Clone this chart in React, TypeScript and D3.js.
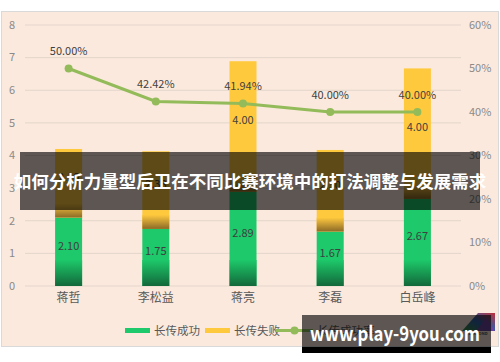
import * as d3 from 'd3';

// chart data
const categories = ['蒋哲', '李松益', '蒋亮', '李磊', '白岳峰'];
const success = [2.1, 1.75, 2.89, 1.67, 2.67];
const fail = [2.1, 2.38, 4.0, 2.5, 4.0];
const rate = [0.5, 0.4242, 0.4194, 0.4, 0.4];
const leftTicks = [0, 1, 2, 3, 4, 5, 6, 7, 8];
const rightTicks = [0, 0.1, 0.2, 0.3, 0.4, 0.5, 0.6];
const legendItems = ['长传成功', '长传失败', '长传成功率'];
const title = '如何分析力量型后卫在不同比赛环境中的打法调整与发展需求';
const watermark = 'www.play-9you.com';

const W = 500;
const H = 362;
const FONT = '"Noto Sans CJK SC", "Noto Sans", sans-serif';
const GREEN = '#1DC96A';
const GREEN_DARK = '#13683A';
const YELLOW = '#FFC93E';
const YELLOW_DARK = '#8C6A28';
const LINE = '#93BB5A';

function App() {
  const x = d3.scaleBand().domain(categories).range([25, 461]).padding(0);
  const y = d3.scaleLinear().domain([0, 8]).range([286, 25]);
  const y2 = d3.scaleLinear().domain([0, 0.6]).range([286, 25]);
  const barW = 27;
  const cx = (c: string) => (x(c) as number) + x.bandwidth() / 2;

  const line = d3
    .line<number>()
    .x((_, i) => cx(categories[i]))
    .y((d) => y2(d));

  const pct = d3.format('.2f');

  return (
    <div style={{ position: 'absolute', left: 0, top: 0 }}>
      <svg width={W} height={H} style={{ display: 'block', fontFamily: FONT }}>
        <defs>
          <linearGradient id="gShade" x1="0" y1="0" x2="0" y2="1">
            <stop offset="0" stopColor={GREEN} />
            <stop offset="1" stopColor={GREEN_DARK} />
          </linearGradient>
          <linearGradient id="yShade" x1="0" y1="0" x2="0" y2="1">
            <stop offset="0" stopColor={YELLOW} />
            <stop offset="1" stopColor={YELLOW_DARK} />
          </linearGradient>
          <linearGradient id="logo1" x1="0" y1="1" x2="1" y2="0">
            <stop offset="0" stopColor="#3A8F3A" />
            <stop offset="0.5" stopColor="#2E5FA8" />
            <stop offset="1" stopColor="#C0303A" />
          </linearGradient>
        </defs>
        <rect x={0} y={0} width={W} height={H} fill="#fff" />
        {/* chart area */}
        <rect x={1.5} y={11.5} width={497} height={335} fill="#FBE9DD" stroke="#D9D9D9" />

        {/* gridlines */}
        {leftTicks.map((t) => (
          <line key={t} x1={25} x2={461} y1={y(t)} y2={y(t)} stroke="#E3D5CB" strokeWidth={1} />
        ))}
        {leftTicks.map((t) => (
          <text key={t} x={12} y={y(t)} dy="0.35em" fontSize={11} fill="#8A8A8A" textAnchor="middle">
            {t}
          </text>
        ))}
        {rightTicks.map((t) => (
          <text key={t} x={469} y={y2(t)} dy="0.35em" fontSize={11} fill="#8A8A8A">
            {Math.round(t * 100) + '%'}
          </text>
        ))}

        {/* bars */}
        {categories.map((c, i) => {
          const x0 = cx(c) - barW / 2;
          const gTop = y(success[i]);
          const fTop = y(success[i] + fail[i]);
          const gh = y(0) - gTop;
          const fh = gTop - fTop;
          return (
            <g key={c}>
              <rect x={x0} y={gTop} width={barW} height={gh} fill={GREEN} />
              <rect x={x0} y={y(0) - 26} width={barW} height={26} fill="url(#gShade)" />
              <rect x={x0} y={fTop} width={barW} height={fh} fill={YELLOW} />
              <rect x={x0} y={gTop - 14} width={barW} height={14} fill="url(#yShade)" />
              <text x={cx(c)} y={(gTop + y(0)) / 2 - 6} dy="0.35em" fontSize={11} fill="#3F3F3F" textAnchor="middle">
                {pct(success[i])}
              </text>
              <text x={cx(c)} y={(fTop + gTop) / 2 - 6} dy="0.35em" fontSize={11} fill="#3F3F3F" textAnchor="middle">
                {pct(fail[i])}
              </text>
              <text x={cx(c)} y={298} dy="0.35em" fontSize={12} fill="#595959" textAnchor="middle">
                {c}
              </text>
            </g>
          );
        })}

        {/* rate line */}
        <path d={line(rate) as string} fill="none" stroke={LINE} strokeWidth={3} />
        {rate.map((r, i) => (
          <g key={i}>
            <circle cx={cx(categories[i])} cy={y2(r)} r={4} fill={LINE} />
            <text x={cx(categories[i])} y={y2(r) - 17} dy="0.35em" fontSize={11} fill="#3F3F3F" textAnchor="middle">
              {pct(r * 100) + '%'}
            </text>
          </g>
        ))}

        {/* legend */}
        <rect x={125} y={328} width={25} height={5} fill={GREEN} />
        <text x={154} y={330.5} dy="0.35em" fontSize={11.5} fill="#595959">
          {legendItems[0]}
        </text>
        <rect x={205} y={328} width={25} height={5} fill={YELLOW} />
        <text x={234} y={330.5} dy="0.35em" fontSize={11.5} fill="#595959">
          {legendItems[1]}
        </text>
        <line x1={276} x2={313} y1={330.5} y2={330.5} stroke={LINE} strokeWidth={3} />
        <circle cx={294.5} cy={330.5} r={4} fill={LINE} />
        <text x={317} y={330.5} dy="0.35em" fontSize={11.5} fill="#595959">
          {legendItems[2]}
        </text>

        {/* logo */}
        <polygon points="462,331 478,313 495,313 495,331" fill="url(#logo1)" />
        <polygon points="476,331 486,318 495,331" fill="#7A3FA0" opacity={0.8} />
        <text x={478} y={335} fontSize={4} fill="#555" textAnchor="middle" fontWeight="bold">
          DIAMOND
        </text>

        {/* title banner */}
        <rect x={20} y={152} width={460} height={58} fill="#000" opacity={0.63} />
        <text x={250} y={182} dy="0.35em" fontSize={17.5} fontWeight="bold" fill="#fff" textAnchor="middle">
          {title}
        </text>

        {/* watermark */}
        <rect x={302} y={315} width={189} height={32} fill="#000" opacity={0.63} />
        <rect x={302} y={347} width={189} height={6} fill="#000" />
        <text x={395} y={334} dy="0.35em" fontSize={20} fontWeight="bold" fill="#fff" textAnchor="middle" textLength={170} lengthAdjust="spacingAndGlyphs">
          {watermark}
        </text>
      </svg>
    </div>
  );
}

export default App;
